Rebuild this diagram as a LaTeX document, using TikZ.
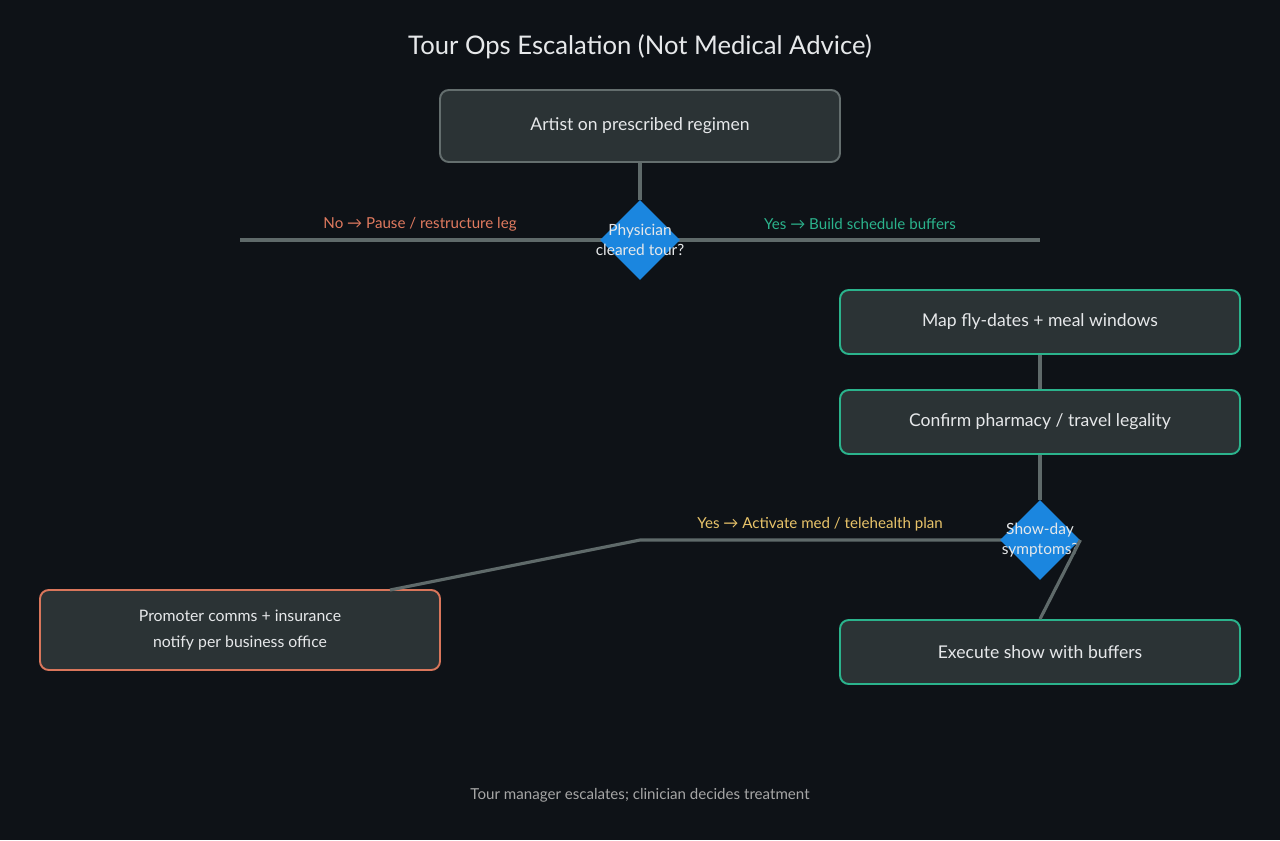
\documentclass[tikz,border=0pt]{standalone}
\usepackage{fontspec}
\setmainfont{Lato}
\usetikzlibrary{shapes.geometric}
\definecolor{bgdark}{HTML}{0E1217}
\definecolor{boxfill}{HTML}{2B3335}
\definecolor{boxgray}{HTML}{646E6E}
\definecolor{boxgreen}{HTML}{2BB38C}
\definecolor{boxorange}{HTML}{D9765B}
\definecolor{diablue}{HTML}{1B86DF}
\definecolor{linegray}{HTML}{5F6A6A}
\definecolor{txtlight}{HTML}{E6E8EA}
\definecolor{labgreen}{HTML}{2BB38C}
\definecolor{laborange}{HTML}{E07A5F}
\definecolor{labyellow}{HTML}{E9C46A}

\begin{document}
\begin{tikzpicture}[x=0.02cm, y=-0.02cm,
	opbox/.style={draw=boxgray, fill=boxfill, rounded corners=5pt, line width=1.1pt, text=txtlight, font=\fontsize{10}{13}\selectfont, align=center},
	decision/.style={diamond, fill=diablue, minimum width=80*0.02cm, minimum height=80*0.02cm, inner sep=0pt},
	link/.style={draw=linegray, line width=1.8pt},
	lab/.style={font=\fontsize{8.6}{10}\selectfont}]
				\fill[bgdark] (0,0) rectangle (1280,840);
				\node[text=txtlight, font=\fontsize{14.6}{17}\selectfont] (title) at (640,47) {Tour Ops Escalation (Not Medical Advice)};
				% boxes
				\node[opbox, minimum width=400*0.02cm, minimum height=72*0.02cm] (artist) at (640,126) {Artist on prescribed regimen};
				\node[opbox, draw=boxgreen, minimum width=400*0.02cm, minimum height=64*0.02cm] (map) at (1040,322) {Map fly-dates + meal windows};
				\node[opbox, draw=boxgreen, minimum width=400*0.02cm, minimum height=64*0.02cm] (confirm) at (1040,422) {Confirm pharmacy / travel legality};
				\node[opbox, draw=boxgreen, minimum width=400*0.02cm, minimum height=64*0.02cm] (execute) at (1040,652) {Execute show with buffers};
				\node[opbox, draw=boxorange, minimum width=400*0.02cm, minimum height=80*0.02cm, font=\fontsize{9}{14.5}\selectfont] (promoter) at (240,630) {Promoter comms + insurance\\notify per business office};
				\coordinate (noend) at (240,240);
				\coordinate (yesend) at (1040,240);
				\coordinate (bend) at (640,540);
				% lines behind diamonds
				\draw[link] (noend) -- (yesend);
				\draw[link] (artist.south) -- (640,200);
				\draw[link] (map.south) -- (confirm.north);
				\draw[link] (confirm.south) -- (1040,500);
				\draw[link] (1040,540) -- (bend) -- (390,590);
				\node[decision] (cleared) at (640,240) {};
				\node[decision] (symptoms) at (1040,540) {};
				\node[text=txtlight, font=\fontsize{8.8}{11}\selectfont, align=center] at (cleared) {Physician\\cleared tour?};
				\node[text=txtlight, font=\fontsize{8.8}{11}\selectfont, align=center] at (symptoms) {Show-day\\symptoms?};
				\draw[link] (symptoms.east) -- (execute.north);
				% labels
				\node[lab, text=laborange] at (420,224) {No → Pause / restructure leg};
				\node[lab, text=labgreen] at (860,224) {Yes → Build schedule buffers};
				\node[lab, text=labyellow] at (820,524) {Yes → Activate med / telehealth plan};
				\node[lab, text=gray!70] (footer) at (640,795) {Tour manager escalates; clinician decides treatment};
			\end{tikzpicture}
\end{document}
